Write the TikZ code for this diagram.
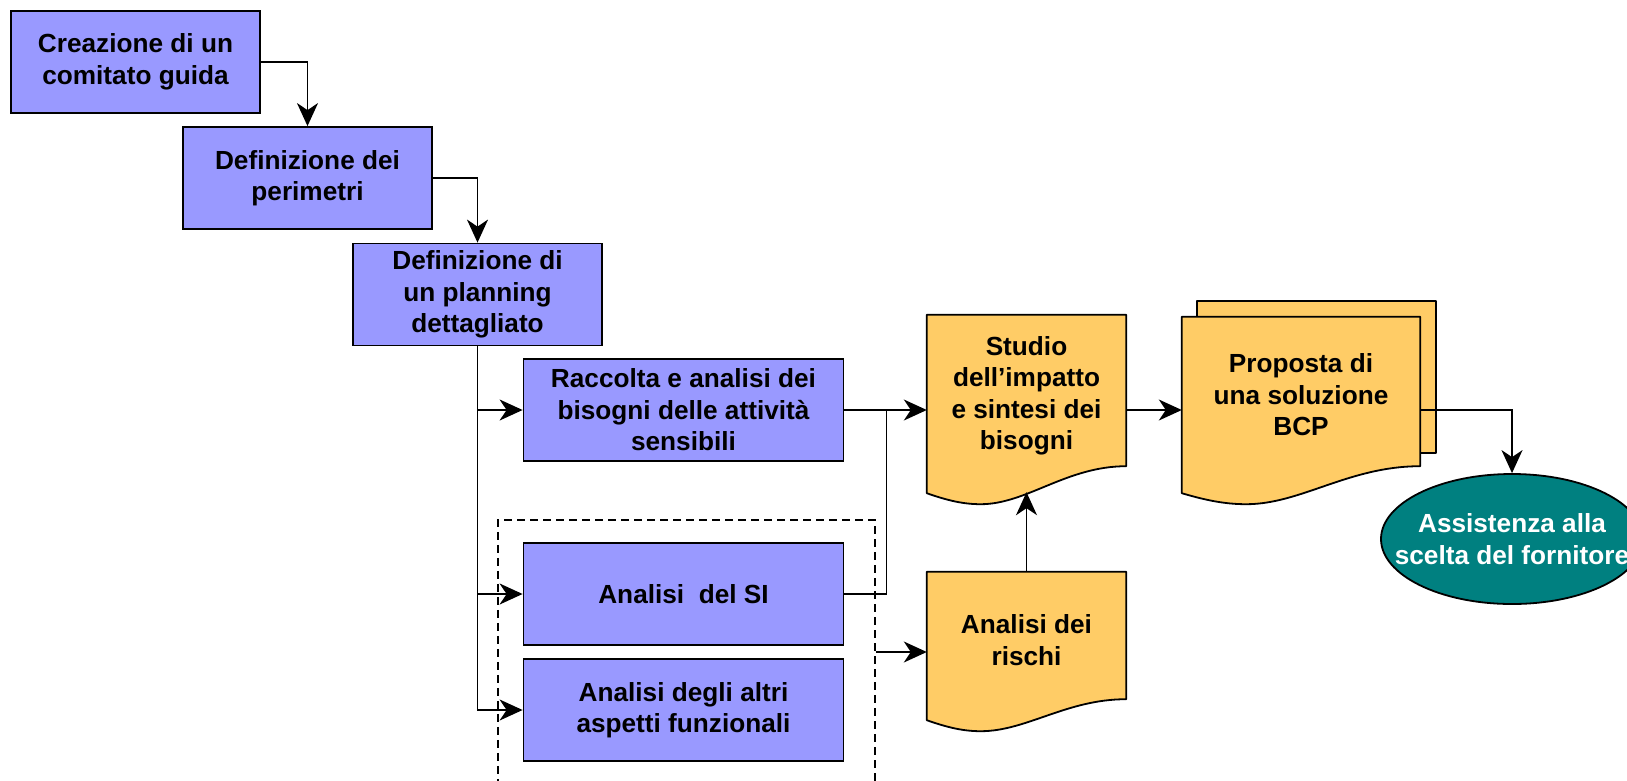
\documentclass[tikz,border=0pt]{standalone}
\usepackage{fontspec}
\setmainfont{Liberation Sans}
\usetikzlibrary{arrows.meta,shapes.geometric,backgrounds,calc}
\definecolor{boxblue}{HTML}{9999FF}
\definecolor{docyellow}{HTML}{FFCC66}
\definecolor{tealc}{HTML}{008080}
% #1 node, #2 rise of right side above left corner, #3 extension of left corner below node
\newcommand\drawdoc[3]{%
  \draw[docshape] (#1.north west) -- (#1.north east) -- ($(#1.south east)+(0,#3-#2)$)
   .. controls ($(#1.south west)!0.7!(#1.south east)+(0,#3-#2)$) and ($(#1.south west)!0.5!(#1.south east)+(0,#3+11)$) .. ($(#1.south west)!0.27!(#1.south east)+(0,#3+11)$)
   .. controls ($(#1.south west)!0.18!(#1.south east)+(0,#3+11)$) and ($(#1.south west)!0.1!(#1.south east)+(0,#3+7)$) .. ($(#1.south west)+(0,#3)$) -- cycle;}
\begin{document}
\begin{tikzpicture}[x=1pt,y=-1pt,
  every node/.style={font=\fontsize{26.2}{31.5}\selectfont\bfseries, align=center, inner sep=0pt},
  box/.style={draw, line width=1.8pt, fill=boxblue, minimum height=102pt},
  docnode/.style={minimum width=199pt},
  docshape/.style={draw, line width=1.8pt, fill=docyellow, line join=round},
  conn/.style={line width=1.6pt},
  arr/.style={conn, -{Stealth[length=23pt,width=21pt,inset=7pt]}},
  grpbox/.style={draw, dashed, dash pattern=on 8pt off 5pt, line width=1.5pt},
]
\useasboundingbox (0,0) rectangle (1627,780);
\clip (0,0) rectangle (1627,780);

\node[box, minimum width=249pt] (b1) at (135.5,62) {Creazione di un\\comitato guida};
\node[box, minimum width=249pt] (b2) at (307.5,178) {Definizione dei\\perimetri};
\node[box, minimum width=249pt] (b3) at (477.5,294.5) {Definizione di\\un planning\\dettagliato};
\node[box, minimum width=320pt] (b4) at (683.5,410) {Raccolta e analisi dei\\bisogni delle attività\\sensibili};
\node[box, minimum width=320pt] (b5) at (683.5,594) {Analisi\ \ del SI};
\node[box, minimum width=320pt] (b6) at (683.5,710) {Analisi degli altri\\aspetti funzionali};

\node[grpbox, anchor=north west, minimum width=377pt, minimum height=300pt] (grp) at (497,519) {};

\node[docnode, minimum height=162pt] (studio) at (1026.5,396) {Studio\\dell’impatto\\e sintesi dei\\bisogni};
\node[docnode, minimum height=136pt] (ri) at (1026.5,640) {Analisi dei\\rischi};
\node[minimum width=239pt, minimum height=152pt] (pb) at (1316.5,377) {};
\node[minimum width=238pt, minimum height=156pt] (pf) at (1301,395) {Proposta di\\una soluzione\\BCP};

\begin{scope}[on background layer]
  \drawdoc{studio}{27}{16}
  \drawdoc{ri}{21}{12}
  \draw[docshape] (pb.north west) rectangle (pb.south east);
  \drawdoc{pf}{27}{20}
\end{scope}

\node[ellipse, draw, line width=1.8pt, fill=tealc, minimum width=262pt, minimum height=130pt] (ell) at (1512,539) {};
\node[text=white] (elltxt) at (ell) {Assistenza alla\\scelta del fornitore};

\coordinate (riin) at ($(ri.west)+(0,12)$);
\coordinate (stbot) at ($(studio.south)+(0,15)$);

\draw[arr] (b1.east) -| (b2.north);
\draw[arr] (b2.east) -| (b3.north);
\draw[arr] (b3.south) |- (b4.west);
\draw[arr] (b3.south) |- (b5.west);
\draw[arr] (b3.south) |- (b6.west);
\draw[conn] (b5.east) -| ($(b4.east)+(42,0)$);
\draw[arr] (b4.east) -- (studio.west |- b4.east);
\draw[arr] (grp.east |- riin) -- (riin);
\draw[arr] (ri.north) -- (stbot);
\draw[arr] (studio.east |- b4.east) -- (pf.west |- b4.east);
\draw[arr] (pf.east |- b4.east) -| (ell.north);
\end{tikzpicture}
\end{document}
